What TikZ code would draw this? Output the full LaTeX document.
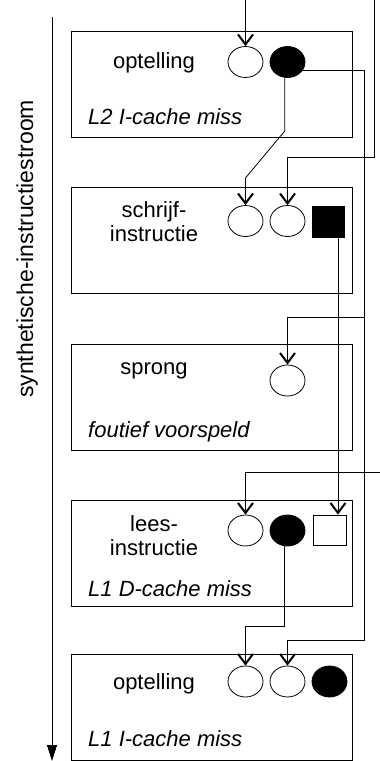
\documentclass[tikz,border=0pt]{standalone}
\usepackage{fontspec}
\setmainfont{Liberation Sans}
\usetikzlibrary{arrows.meta,shapes.geometric}
\begin{document}
\begin{tikzpicture}[x=1pt,y=-1pt,
 boxst/.style={draw, line width=0.9pt, minimum width=281pt, minimum height=106pt, inner sep=0pt},
 ov/.style={draw, ellipse, line width=0.8pt, minimum width=35pt, minimum height=31pt, inner sep=0pt},
 fov/.style={ov, fill=black},
 sq/.style={draw, line width=0.8pt, minimum width=32pt, minimum height=31pt, inner sep=0pt},
 fsq/.style={sq, fill=black},
 lbl/.style={anchor=base, font=\fontsize{22}{26}\selectfont, inner sep=0pt},
 ilbl/.style={anchor=base west, font=\fontsize{22}{26}\selectfont\itshape, inner sep=0pt},
 con/.style={line width=0.8pt},
 arr/.style={con, -{Straight Barb[length=10pt,width=15pt,line width=2pt]}}
]
\useasboundingbox (0,0) rectangle (380,761);
% boxes
\node[boxst] (b1) at (211.5,84) {};
\node[boxst] (b2) at (211.5,240) {};
\node[boxst] (b3) at (211.5,397) {};
\node[boxst] (b4) at (211.5,553.5) {};
\node[boxst] (b5) at (211.5,707) {};
% operand markers
\node[ov] (e11) at (245.5,62) {};
\node[fov] (f1) at (287.5,62) {};
\node[ov] (e21) at (245.5,221) {};
\node[ov] (e22) at (287.5,221) {};
\node[fsq] (s2) at (328,221.5) {};
\node[ov] (e3) at (287.5,380.5) {};
\node[ov] (e41) at (245.5,530.5) {};
\node[fov] (f4) at (287.5,530.5) {};
\node[sq, minimum width=33pt, minimum height=30pt] (s4) at (329.5,530) {};
\node[ov] (e51) at (245.5,681.5) {};
\node[ov] (e52) at (287.5,681.5) {};
\node[fov] (f5) at (329.5,681.5) {};
% labels
\node[lbl] (t1) at (154,68) {optelling};
\node[ilbl] (t1i) at (88,124) {L2 I-cache miss};
\node[lbl] (t2a) at (154,217.5) {schrijf-};
\node[lbl] (t2b) at (154,241.5) {instructie};
\node[lbl] (t3) at (154,374) {sprong};
\node[ilbl] (t3i) at (88,437) {foutief voorspeld};
\node[lbl] (t4a) at (154,531.5) {lees-};
\node[lbl] (t4b) at (154,555) {instructie};
\node[ilbl] (t4i) at (88,596) {L1 D-cache miss};
\node[lbl] (t5) at (154,689) {optelling};
\node[ilbl] (t5i) at (88,746.5) {L1 I-cache miss};
\node[rotate=90, anchor=base west, font=\fontsize{23}{27}\selectfont, inner sep=0pt] (vt) at (33,398) {synthetische-instructiestroom};
% left stream arrow
\coordinate (ls) at (52,17);
\coordinate (le) at (52,761);
\draw[line width=0.8pt, -{Triangle[length=16pt,width=10pt]}] (ls) -- (le);
% connector helper points
\coordinate (in1) at (245.5,0);
\coordinate (in2) at (374,0);
\coordinate (in3) at (380,472);
\coordinate (k1) at (374,157);
\coordinate (j1) at (364,317);
\coordinate (j2) at (364,640);
\coordinate (d1) at (0,131);
\coordinate (d2) at (245.5,178);
\coordinate (g1) at (245.5,626);
% connectors
\draw[arr] (in1) -- (e11.north);
\draw[arr] (f1.-30) -| (j2) -| (e52.north);
\draw[arr] (j1) -| (e3.north);
\draw[arr] (in2) -- (k1) -| (e22.north);
\draw[arr] (f1.-100) -- (f1.-100 |- d1) -- (d2) -- (e21.north);
\draw[arr] ([xshift=10pt]s2.south) -- ([xshift=8.5pt]s4.north);
\draw[arr] (in3) -| (e41.north);
\draw[arr] (f4.-100) |- (g1) -- (e51.north);
\end{tikzpicture}
\end{document}
